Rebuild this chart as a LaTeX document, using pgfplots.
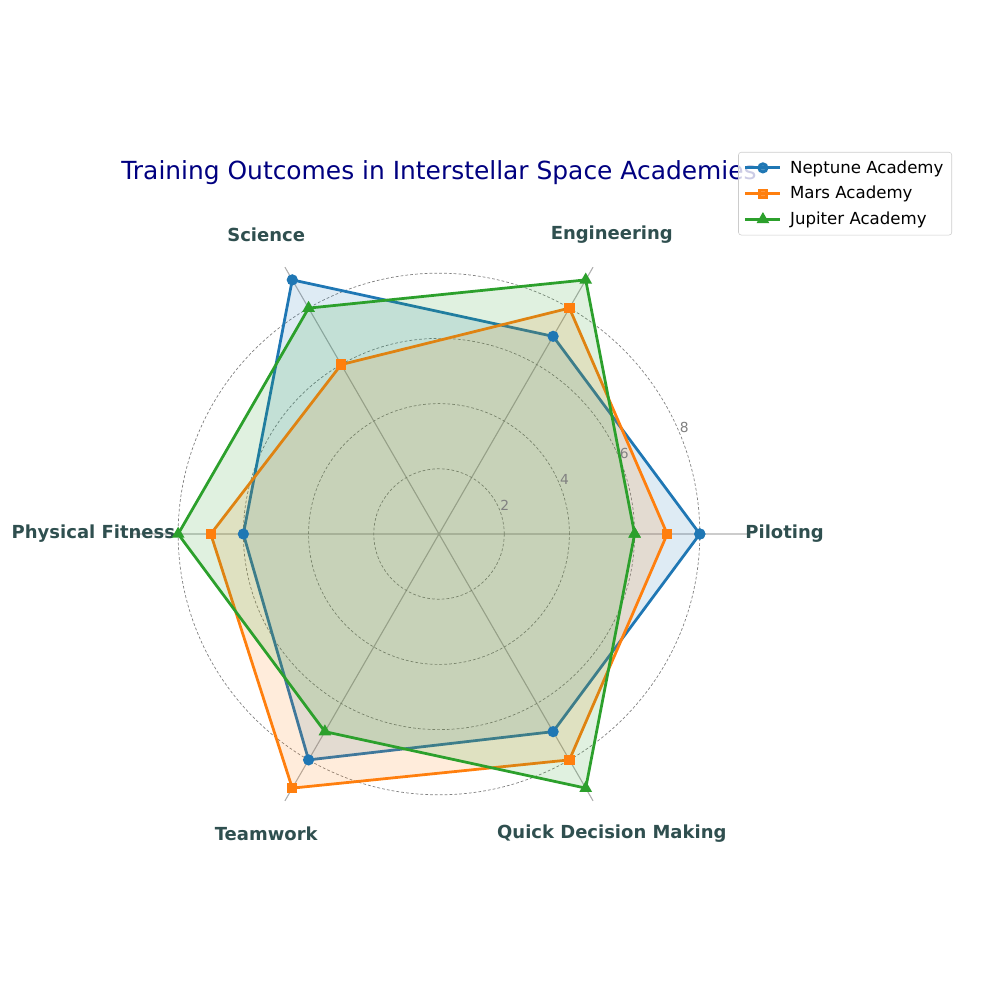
\documentclass[border=0pt]{standalone}
\usepackage{fontspec}
\setmainfont{DejaVu Sans}
\usepackage{pgfplots}
\pgfplotsset{compat=1.18}
\usepgfplotslibrary{polar}
\definecolor{cA}{HTML}{1F77B4}
\definecolor{cB}{HTML}{FF7F0E}
\definecolor{cC}{HTML}{2CA02C}
\definecolor{lbl}{HTML}{2F4F4F}
\definecolor{navyc}{HTML}{000080}
\begin{document}
\begin{tikzpicture}[x=1in,y=1in]
\path[use as bounding box] (-4.39in,-4.66in) rectangle (5.61in,5.34in);
\node[text=navyc, font=\fontsize{18}{21}\selectfont] at (0,3.61) {Training Outcomes in Interstellar Space Academies};
\begin{polaraxis}[
  at={(0,0)}, anchor=center,
  scale only axis, width=6.162in, height=6.162in,
  xmin=0, xmax=360, ymin=0, ymax=9.45,
  xtick={0,60,120,180,240,300},
  xticklabels={},
  ytick={2,4,6,8},
  yticklabels={},
  xmajorgrids, ymajorgrids,
  major x grid style={draw=black!31, line width=0.8pt},
  major y grid style={draw=gray, line width=0.5pt, dash pattern=on 2pt off 1.5pt},
  axis line style={draw=none},
  major tick length=0pt,
  clip=false,
  legend image code/.code={\draw[mark repeat=2,mark phase=2] plot coordinates {(0in,0in) (0.175in,0in) (0.35in,0in)};},
  legend style={at={(1.3326,1.12)}, anchor=north east, draw=black!20, rounded corners=2pt, fill=white, fill opacity=0.8, text opacity=1, font=\fontsize{12}{14}\selectfont, row sep=4pt, inner sep=4pt, /tikz/every odd column/.append style={column sep=4pt}},
  legend cell align=left,
]
% Neptune
\addplot[draw=none, fill=cA, fill opacity=0.15, forget plot] coordinates {(0,8) (60,7) (120,9) (180,6) (240,8) (300,7) (360,8)};
\addplot[cA, line width=2pt, mark=*, mark size=3pt, mark options={solid, fill=cA, draw=cA}] coordinates {(0,8) (60,7) (120,9) (180,6) (240,8) (300,7) (360,8)};
\addlegendentry{Neptune Academy}
% Mars
\addplot[draw=none, fill=cB, fill opacity=0.15, forget plot] coordinates {(0,7) (60,8) (120,6) (180,7) (240,9) (300,8) (360,7)};
\addplot[cB, line width=2pt, mark=square*, mark size=2.7pt, mark options={solid, fill=cB, draw=cB}] coordinates {(0,7) (60,8) (120,6) (180,7) (240,9) (300,8) (360,7)};
\addlegendentry{Mars Academy}
% Jupiter
\addplot[draw=none, fill=cC, fill opacity=0.15, forget plot] coordinates {(0,6) (60,9) (120,8) (180,8) (240,7) (300,9) (360,6)};
\addplot[cC, line width=2pt, mark=triangle*, mark size=3.3pt, mark options={solid, fill=cC, draw=cC}] coordinates {(0,6) (60,9) (120,8) (180,8) (240,7) (300,9) (360,6)};
\addlegendentry{Jupiter Academy}
% radial tick labels
\node[text=gray, font=\fontsize{10}{12}\selectfont] at (axis cs:23.5,2.2) {2};
\node[text=gray, font=\fontsize{10}{12}\selectfont] at (axis cs:23.5,4.2) {4};
\node[text=gray, font=\fontsize{10}{12}\selectfont] at (axis cs:23.5,6.2) {6};
\node[text=gray, font=\fontsize{10}{12}\selectfont] at (axis cs:23.5,8.2) {8};
% category labels
\node[text=lbl, font=\bfseries\fontsize{13}{15}\selectfont] at (axis cs:0,10.6) {Piloting};
\node[text=lbl, font=\bfseries\fontsize{13}{15}\selectfont] at (axis cs:60,10.6) {Engineering};
\node[text=lbl, font=\bfseries\fontsize{13}{15}\selectfont] at (axis cs:120,10.6) {Science};
\node[text=lbl, font=\bfseries\fontsize{13}{15}\selectfont] at (axis cs:180,10.6) {Physical Fitness};
\node[text=lbl, font=\bfseries\fontsize{13}{15}\selectfont] at (axis cs:240,10.6) {Teamwork};
\node[text=lbl, font=\bfseries\fontsize{13}{15}\selectfont] at (axis cs:300,10.6) {Quick Decision Making};
\end{polaraxis}
\end{tikzpicture}
\end{document}
